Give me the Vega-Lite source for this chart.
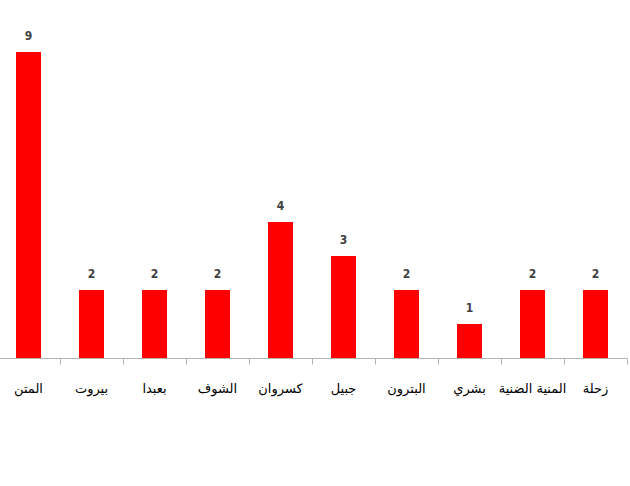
{
  "$schema": "https://vega.github.io/schema/vega-lite/v6.json",
  "autosize": "none",
  "width": 630,
  "height": 306,
  "padding": {"top": 52, "left": 0, "right": 0, "bottom": 128},
  "background": "white",
  "data": {"values": [
    {"district": "المتن", "count": 9},
    {"district": "بيروت", "count": 2},
    {"district": "بعبدا", "count": 2},
    {"district": "الشوف", "count": 2},
    {"district": "كسروان", "count": 4},
    {"district": "جبيل", "count": 3},
    {"district": "البترون", "count": 2},
    {"district": "بشري", "count": 1},
    {"district": "المنية الضنية", "count": 2},
    {"district": "زحلة", "count": 2}
  ]},
  "config": {"view": {"stroke": null}, "font": "DejaVu Sans"},
  "encoding": {
    "x": {
      "field": "district", "type": "nominal", "sort": null,
      "scale": {"range": [-3, 627], "paddingInner": 0, "paddingOuter": 0},
      "axis": {
        "title": null, "labelAngle": 0, "domainColor": "#b3b3b3", "tickColor": "#b3b3b3",
        "tickSize": 6, "bandPosition": 1, "labelPadding": 18, "labelFontSize": 13,
        "labelColor": "#000000", "labelFont": "DejaVu Sans", "grid": false
      }
    },
    "y": {
      "field": "count", "type": "quantitative",
      "scale": {"domain": [0, 9], "nice": false},
      "axis": null
    }
  },
  "layer": [
    {"mark": {"type": "bar", "color": "#ff0000", "size": 25}},
    {
      "mark": {"type": "text", "dy": -9, "fontSize": 12, "font": "DejaVu Sans Condensed", "fontWeight": "bold", "color": "#404040", "baseline": "bottom"},
      "encoding": {"text": {"field": "count", "type": "quantitative"}}
    }
  ]
}
